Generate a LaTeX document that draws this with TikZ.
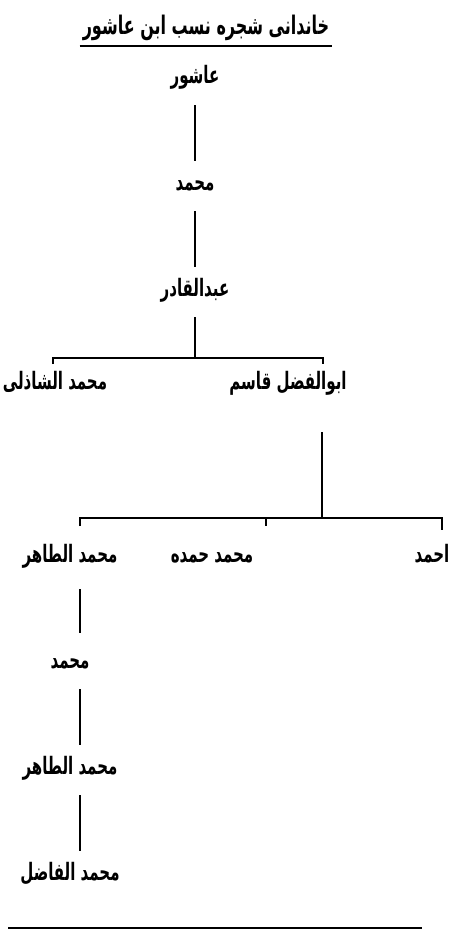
\documentclass[tikz,border=0pt]{standalone}
\usepackage{fontspec}
\usepackage{graphicx}
\newfontfamily\urdufont[Script=Arabic]{DejaVu Sans}
\TeXXeTstate=1
\newcommand{\urdu}[1]{\scalebox{1}[1.6]{\beginR #1\endR}}
\usetikzlibrary{positioning}

\begin{document}
\begin{tikzpicture}[x=1pt, y=-1pt, node distance=106pt,
                    person/.style={font=\urdufont\bfseries\fontsize{15}{18}\selectfont,
                      inner sep=0pt, text height=13pt, text depth=5pt,
                      minimum height=50pt},
                    link/.style={line width=2.4pt}]
  \useasboundingbox (0,0) rectangle (452,934);

  % heading
  \node[font=\urdufont\bfseries\fontsize{16}{20}\selectfont, inner xsep=3pt,
        inner ysep=3pt, text height=18pt, text depth=8pt] (title) at (206,30)
        {\urdu{خاندانی شجره نسب ابن عاشور}};
  \draw[line width=1.6pt] (title.south west) -- (title.south east);

  % columns of the tree
  \coordinate (c1) at (195,0);
  \coordinate (c2) at (80,0);
  \coordinate (c3) at (322,0);
  \coordinate (b1l) at (53,358);
  \coordinate (b1r) at (323,358);
  \coordinate (b2l) at (80,518);
  \coordinate (b2m) at (266,518);
  \coordinate (b2r) at (442,518);

  \node[person] (ashur) at (195,80) {\urdu{عاشور}};
  \node[person] (m1) [below of=ashur] {\urdu{محمد}};
  \node[person] (qadir) [below of=m1] {\urdu{عبدالقادر}};

  \node[person] (shazli) at (55,385) {\urdu{محمد الشاذلی}};
  \node[person] (qasim) at (288,385) {\urdu{ابوالفضل قاسم}};

  \node[person] (tahir1) at (70,558) {\urdu{محمد الطاهر}};
  \node[person] (hamdah) at (212,558) {\urdu{محمد حمده}};
  \node[person] (ahmad) at (432,558) {\urdu{احمد}};

  \node[person] (m2) [below of=tahir1] {\urdu{محمد}};
  \node[person] (tahir2) [below of=m2] {\urdu{محمد الطاهر}};
  \node[person] (fazil) [below of=tahir2] {\urdu{محمد الفاضل}};

  \draw[link] (ashur.south -| c1) -- (m1.north -| c1);
  \draw[link] (m1.south -| c1) -- (qadir.north -| c1);
  \draw[link] (qadir.south -| c1) -- (c1 |- b1l);
  \draw[link] ([yshift=-6pt]b1l) -- (b1l) -- (b1r) -- ([yshift=-6pt]b1r);

  \draw[link] ([yshift=-22pt]qasim.south -| c3) -- (c3 |- b2l);
  \draw[link] ([yshift=-8pt]b2l) -- (b2l) -- (b2r) -- ([yshift=-12pt]b2r);
  \draw[link] (b2m) -- ([yshift=-8pt]b2m);

  \draw[link] ([yshift=-6pt]tahir1.south -| c2) -- ([yshift=6pt]m2.north -| c2);
  \draw[link] (m2.south -| c2) -- (tahir2.north -| c2);
  \draw[link] (tahir2.south -| c2) -- (fazil.north -| c2);

  % closing rule
  \draw[line width=2pt] (8,928) -- (422,928);
\end{tikzpicture}
\end{document}
